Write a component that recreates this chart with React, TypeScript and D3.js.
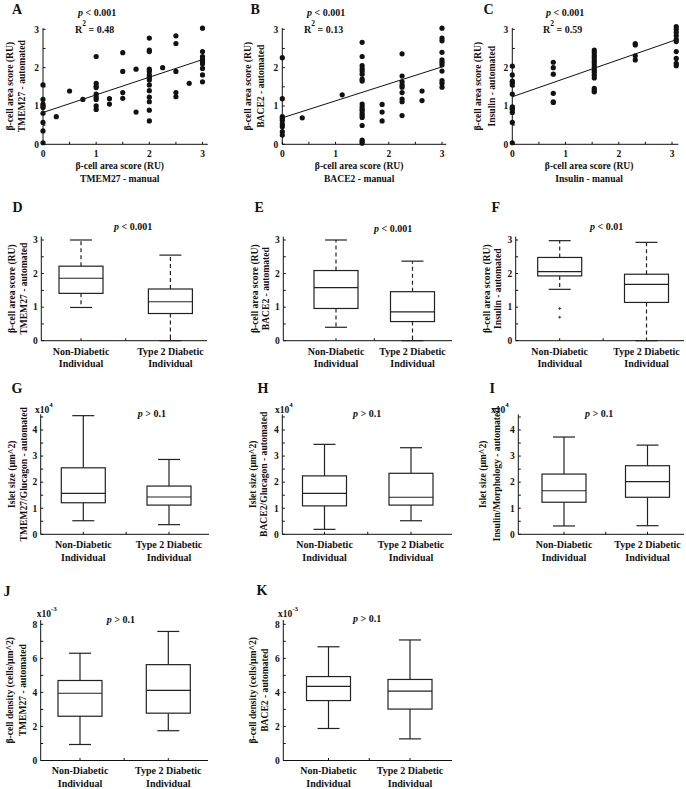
import React from "react";
import * as d3 from "d3";

const FONT = "'Liberation Serif', 'Times New Roman', serif";
const INK = "#111";

// ---------- Scatter data (manual score x, automated score y) ----------
const aManual = [0,0,0,0,0,0,0,0,0, 0.25, 0.5, 0.75, 1,1,1,1,1,1,1,1,1, 1.25,1.25, 1.5,1.5,1.5,1.5, 1.75,1.75, 2,2,2,2,2,2,2,2,2,2,2,2,2,2, 2.25, 2.5,2.5,2.5,2.5,2.5, 2.75, 3,3,3,3,3,3,3,3,3];
const aAuto = [1.55,1.17,1.05,1.0,0.96,0.81,0.57,0.35,0.04, 0.72, 1.39, 1.17, 2.29,1.59,1.52,1.48,1.31,1.23,1.17,1.0,0.91, 1.19,1.05, 2.39,1.9,1.35,1.2, 1.96,0.84, 2.77,2.46,2.42,1.96,1.9,1.81,1.75,1.68,1.55,1.4,1.23,1.11,0.89,0.61, 2.0, 2.83,2.63,1.9,1.35,1.24, 1.59, 3.03,2.42,2.29,2.22,2.16,2.1,1.98,1.81,1.63];
const aFit = [0.83, 2.21];

const bManual = [0,0,0,0,0,0,0,0,0, 0.375, 1.125, 1.5,1.5,1.5,1.5,1.5,1.5,1.5,1.5,1.5,1.5,1.5,1.5,1.5,1.5,1.5,1.5,1.5,1.5,1.5, 1.875,1.875,1.875, 2.25,2.25,2.25,2.25,2.25,2.25,2.25,2.25,2.25, 2.625,2.625, 3,3,3,3,3,3,3,3,3,3,3];
const bAuto = [2.26,1.19,0.72,0.68,0.62,0.53,0.46,0.33,0.24, 0.69, 1.29, 2.66,2.29,2.05,1.97,1.91,1.83,1.7,1.65,1.05,0.98,0.92,0.88,0.81,0.75,0.7,0.49,0.11,0.07,0.03, 1.04,0.84,0.61, 2.36,1.78,1.63,1.55,1.49,1.35,1.18,1.11,0.75, 1.39,1.14, 3.03,2.77,2.7,2.4,2.2,2.14,2.07,1.91,1.66,1.59,1.49];
const bFit = [0.69, 2.02];

const cManual = [0,0,0,0,0,0,0,0,0,0,0,0, 0.77,0.77,0.77,0.77,0.77,0.77, 1.54,1.54,1.54,1.54,1.54,1.54,1.54,1.54,1.54,1.54,1.54,1.54,1.54,1.54,1.54, 2.31,2.31,2.31,2.31, 3.08,3.08,3.08,3.08,3.08,3.08,3.08,3.08,3.08,3.08];
const cAuto = [2.04,1.81,1.65,1.61,1.55,1.31,0.98,0.94,0.9,0.83,0.57,0.04, 2.14,2.0,1.83,1.33,1.11,1.09, 2.46,2.4,2.33,2.27,2.2,2.14,2.07,2.0,1.93,1.87,1.8,1.73,1.46,1.4,1.37, 2.63,2.59,2.31,2.2, 3.07,3.0,2.92,2.83,2.74,2.68,2.42,2.24,2.11,2.05];
const cFit = [1.24, 2.69];

const scoreTicks = [0, 1, 2, 3];

// ---------- Box plot stats [lowWhisker, Q1, median, Q3, highWhisker] ----------
const groups = ["Non-Diabetic", "Type 2 Diabetic"];
const dND = [0.99, 1.41, 1.86, 2.22, 3.0];
const dT2D = [0.0, 0.81, 1.16, 1.54, 2.55];
const eND = [0.4, 0.96, 1.58, 2.09, 3.0];
const eT2D = [0.0, 0.57, 0.86, 1.46, 2.37];
const fND = [1.53, 1.93, 2.06, 2.48, 2.98];
const fT2D = [0.0, 1.14, 1.68, 1.98, 2.93];
const fOutliersND = [0.96, 0.7];
const gND = [0.52, 1.21, 1.57, 2.55, 4.55];
const gT2D = [0.37, 1.12, 1.43, 1.85, 2.87];
const hND = [0.19, 1.09, 1.57, 2.24, 3.45];
const hT2D = [0.52, 1.12, 1.42, 2.34, 3.32];
const iND = [0.32, 1.23, 1.67, 2.31, 3.73];
const iT2D = [0.33, 1.42, 2.02, 2.63, 3.42];
const jND = [0.94, 2.6, 3.95, 4.7, 6.3];
const jT2D = [1.75, 2.78, 4.12, 5.63, 7.58];
const kND = [1.88, 3.52, 4.35, 4.93, 6.68];
const kT2D = [1.27, 3.02, 4.07, 4.76, 7.08];

function PText({ x, y, sign, val }: { x: number; y: number; sign: string; val: string }) {
  return (
    <text x={x} y={y} fontSize={10} fontWeight="bold" fontFamily={FONT} fill={INK}>
      <tspan fontStyle="italic">p</tspan>{` ${sign} ${val}`}
    </text>
  );
}

function YLabel({ cx, cy, lines }: { cx: number[]; cy: number; lines: string[] }) {
  return (
    <g>
      {lines.map((l, i) => (
        <text key={i} transform={`translate(${cx[i] + 3.2},${cy}) rotate(-90)`} textAnchor="middle"
          fontSize={9.6} fontWeight="bold" fontFamily={FONT} fill={INK}>{l}</text>
      ))}
    </g>
  );
}

type ScatterCfg = {
  letter: string; lx: number; ly: number;
  x0: number; x3: number; xmax: number;
  px: number; r2: string; ylab: string[]; ylx: number[]; xlab: string[];
};

function Scatter({ cfg, xs, ys, fit }: { cfg: ScatterCfg; xs: number[]; ys: number[]; fit: number[] }) {
  const x = d3.scaleLinear().domain([0, 3]).range([cfg.x0, cfg.x3]);
  const y = d3.scaleLinear().domain([0, 3]).range([144.3, 29.3]);
  const xmaxFit = d3.max(xs) as number;
  const slope = (fit[1] - fit[0]) / 3;
  const line = d3.line<number>().x((d) => x(d)).y((d) => y(fit[0] + slope * d));
  const halfTicks = d3.range(0, 3.01, 0.5);
  const xc = (x(0) + x(3)) / 2 - 3;
  return (
    <g>
      <text x={cfg.lx} y={cfg.ly} fontSize={14} fontWeight="bold" fontFamily={FONT} fill={INK}>{cfg.letter}</text>
      <PText x={cfg.px} y={16} sign="<" val="0.001" />
      <text x={cfg.px - 3} y={33} fontSize={10} fontWeight="bold" fontFamily={FONT} fill={INK}>
        R<tspan dy={-7} fontSize={7.5}>2</tspan><tspan dy={7}>{` = ${cfg.r2}`}</tspan>
      </text>
      <line x1={x(0)} x2={x(cfg.xmax)} y1={y(0)} y2={y(0)} stroke={INK} strokeWidth={1} />
      <line x1={x(0)} x2={x(0)} y1={y(0)} y2={y(3.03)} stroke={INK} strokeWidth={1} />
      {halfTicks.map((t) => (
        <g key={t}>
          <line x1={x(t)} x2={x(t)} y1={y(0)} y2={y(0) - 2.5} stroke={INK} />
          <line x1={x(0)} x2={x(0) + 2.5} y1={y(t)} y2={y(t)} stroke={INK} />
        </g>
      ))}
      {scoreTicks.map((t) => (
        <g key={t}>
          <text x={x(t)} y={y(0) + 13} textAnchor="middle" fontSize={9.5} fontWeight="bold" fontFamily={FONT} fill={INK}>{t}</text>
          <text x={x(0) - 4} y={y(t) + 3.3} textAnchor="end" fontSize={9.5} fontWeight="bold" fontFamily={FONT} fill={INK}>{t}</text>
        </g>
      ))}
      {xs.map((d, i) => (
        <circle key={i} cx={x(d)} cy={y(ys[i])} r={2.6} fill={INK} />
      ))}
      <path d={line([0, xmaxFit]) || ""} fill="none" stroke={INK} strokeWidth={1} />
      <YLabel cx={cfg.ylx} cy={(y(0) + y(3.03)) / 2} lines={cfg.ylab} />
      {cfg.xlab.map((l, i) => (
        <text key={i} x={xc} y={169 + i * 12.5} textAnchor="middle" fontSize={9.6} fontWeight="bold" fontFamily={FONT} fill={INK}>{l}</text>
      ))}
    </g>
  );
}

type BoxCfg = {
  letter: string; lx: number; ly: number;
  ax: number; aEnd: number; y0: number; yRefPx: number; yRef: number; ymax: number;
  centers: number[]; ylab: string[]; ylx: number[];
  p: { x: number; y: number; sign: string; val: string };
  dashed: boolean; tickStep: number; labelStep: number;
  exp?: { x: number; y: number; e: string };
};

function BoxPanel({ cfg, stats, outliers }: { cfg: BoxCfg; stats: number[][]; outliers?: number[][] }) {
  const y = d3.scaleLinear().domain([0, cfg.yRef]).range([cfg.y0, cfg.yRefPx]);
  const x = d3.scaleLinear().domain([1, 2]).range([cfg.centers[0], cfg.centers[1]]);
  const bw = 44, cw = 22;
  const ticks = d3.range(0, cfg.ymax + 1e-6, cfg.tickStep);
  const labels = d3.range(0, cfg.ymax + 1e-6, cfg.labelStep);
  const boxColor = "#222";
  return (
    <g>
      <text x={cfg.lx} y={cfg.ly} fontSize={14} fontWeight="bold" fontFamily={FONT} fill={INK}>{cfg.letter}</text>
      <PText {...cfg.p} />
      {cfg.exp && (
        <text x={cfg.exp.x} y={cfg.exp.y} fontSize={9.5} fontWeight="bold" fontFamily={FONT} fill={INK}>
          x10<tspan dy={-6} fontSize={7}>{cfg.exp.e}</tspan>
        </text>
      )}
      <line x1={cfg.ax} x2={cfg.aEnd} y1={cfg.y0} y2={cfg.y0} stroke={INK} />
      <line x1={cfg.ax} x2={cfg.ax} y1={cfg.y0} y2={y(cfg.ymax)} stroke={INK} />
      {ticks.map((t) => (
        <line key={t} x1={cfg.ax} x2={cfg.ax + 2.5} y1={y(t)} y2={y(t)} stroke={INK} />
      ))}
      {[1, 1.5, 2].map((t) => (
        <line key={t} x1={x(t)} x2={x(t)} y1={cfg.y0} y2={cfg.y0 - 2.5} stroke={INK} />
      ))}
      {labels.map((t) => (
        <text key={t} x={cfg.ax - 3.5} y={y(t) + 3.3} textAnchor="end" fontSize={9.5} fontWeight="bold" fontFamily={FONT} fill={INK}>{t}</text>
      ))}
      {stats.map((s, i) => {
        const cx = x(i + 1);
        return (
          <g key={i} stroke={boxColor} strokeWidth={1.2} fill="none">
            <line x1={cx} x2={cx} y1={y(s[3])} y2={y(s[4])} strokeDasharray={cfg.dashed ? "4 3" : undefined} />
            <line x1={cx} x2={cx} y1={y(s[1])} y2={y(s[0])} strokeDasharray={cfg.dashed ? "4 3" : undefined} />
            <line x1={cx - cw / 2} x2={cx + cw / 2} y1={y(s[4])} y2={y(s[4])} />
            <line x1={cx - cw / 2} x2={cx + cw / 2} y1={y(s[0])} y2={y(s[0])} />
            <rect x={cx - bw / 2} y={y(s[3])} width={bw} height={y(s[1]) - y(s[3])} fill="white" />
            <line x1={cx - bw / 2} x2={cx + bw / 2} y1={y(s[2])} y2={y(s[2])} />
            {(outliers?.[i] || []).map((o, j) => (
              <g key={j} strokeWidth={0.8}>
                <line x1={cx - 1.5} x2={cx + 1.5} y1={y(o)} y2={y(o)} />
                <line x1={cx} x2={cx} y1={y(o) - 1.5} y2={y(o) + 1.5} />
              </g>
            ))}
          </g>
        );
      })}
      {groups.map((g, i) => (
        <g key={g}>
          <text x={x(i + 1)} y={cfg.y0 + 13.8} textAnchor="middle" fontSize={10} fontWeight="bold" fontFamily={FONT} fill={INK}>{g}</text>
          <text x={x(i + 1)} y={cfg.y0 + 26.5} textAnchor="middle" fontSize={10} fontWeight="bold" fontFamily={FONT} fill={INK}>Individual</text>
        </g>
      ))}
      <YLabel cx={cfg.ylx} cy={(cfg.y0 + y(cfg.ymax)) / 2} lines={cfg.ylab} />
    </g>
  );
}

const scoreLab = "β-cell area score (RU)";
const isletLab = "Islet size (μm^2)";
const densLab = "β-cell density (cells/μm^2)";

export default function App() {
  const rowScore = { y0: 340.7, yRefPx: 240, yRef: 3, ymax: 3.1, dashed: true, tickStep: 0.5, labelStep: 1 };
  const rowIslet = { y0: 534.3, yRefPx: 430, yRef: 4, ymax: 4.6, dashed: false, tickStep: 0.5, labelStep: 1 };
  const rowDens = { y0: 760.5, yRefPx: 624.3, yRef: 8, ymax: 8.25, dashed: false, tickStep: 1, labelStep: 2 };
  return (
    <svg width={686} height={789} style={{ position: "absolute", left: 0, top: 0, background: "white" }}>
      <rect width={686} height={789} fill="white" />
      <Scatter xs={aManual} ys={aAuto} fit={aFit}
        cfg={{ letter: "A", lx: 12, ly: 13.5, x0: 43, x3: 202.5, xmax: 3.1, px: 78, r2: "0.48",
          ylab: [scoreLab, "TMEM27 - automated"], ylx: [9.5, 22], xlab: [scoreLab, "TMEM27 - manual"] }} />
      <Scatter xs={bManual} ys={bAuto} fit={bFit}
        cfg={{ letter: "B", lx: 250.5, ly: 13.5, x0: 282.3, x3: 442, xmax: 3.08, px: 307, r2: "0.13",
          ylab: [scoreLab, "BACE2 - automated"], ylx: [247.5, 260.5], xlab: [scoreLab, "BACE2 - manual"] }} />
      <Scatter xs={cManual} ys={cAuto} fit={cFit}
        cfg={{ letter: "C", lx: 483.5, ly: 13.5, x0: 512.3, x3: 672, xmax: 3.12, px: 546, r2: "0.59",
          ylab: [scoreLab, "Insulin - automated"], ylx: [478, 492], xlab: [scoreLab, "Insulin - manual"] }} />

      <BoxPanel stats={[dND, dT2D]}
        cfg={{ ...rowScore, letter: "D", lx: 12.5, ly: 211.7, ax: 41.3, aEnd: 207, centers: [81, 170.4],
          ylab: [scoreLab, "TMEM27 - automated"], ylx: [12, 23.3], p: { x: 114, y: 230, sign: "<", val: "0.001" } }} />
      <BoxPanel stats={[eND, eT2D]}
        cfg={{ ...rowScore, letter: "E", lx: 254.5, ly: 211.7, ax: 283.3, aEnd: 452, centers: [336, 412.5],
          ylab: [scoreLab, "BACE2 - automated"], ylx: [254.3, 265.5], p: { x: 374, y: 232.3, sign: "<", val: "0.001" } }} />
      <BoxPanel stats={[fND, fT2D]} outliers={[fOutliersND, []]}
        cfg={{ ...rowScore, letter: "F", lx: 491.5, ly: 211.5, ax: 515.7, aEnd: 684, centers: [559.7, 646.5],
          ylab: [scoreLab, "Insulin - automated"], ylx: [486.7, 498], p: { x: 590, y: 230, sign: "<", val: "0.01" } }} />

      <BoxPanel stats={[gND, gT2D]}
        cfg={{ ...rowIslet, letter: "G", lx: 11.5, ly: 393.3, ax: 40.7, aEnd: 209, centers: [83.3, 169],
          ylab: [isletLab, "TMEM27/Glucagon - automated"], ylx: [11.7, 23.3], p: { x: 137.7, y: 416.7, sign: ">", val: "0.1" },
          exp: { x: 35, y: 413.3, e: "4" } }} />
      <BoxPanel stats={[hND, hT2D]}
        cfg={{ ...rowIslet, letter: "H", lx: 257.5, ly: 393.3, ax: 282.3, aEnd: 452, centers: [324.5, 411],
          ylab: [isletLab, "BACE2/Glucagon - automated"], ylx: [252.3, 263.5], p: { x: 353, y: 416.7, sign: ">", val: "0.1" },
          exp: { x: 275, y: 413.3, e: "4" } }} />
      <BoxPanel stats={[iND, iT2D]}
        cfg={{ ...rowIslet, letter: "I", lx: 489.5, ly: 393.3, ax: 518.3, aEnd: 684, centers: [564, 647.5],
          ylab: [isletLab, "Insulin/Morphology - automated"], ylx: [482.5, 497], p: { x: 585, y: 416.7, sign: ">", val: "0.1" },
          exp: { x: 491, y: 413.3, e: "4" } }} />

      <BoxPanel stats={[jND, jT2D]}
        cfg={{ ...rowDens, letter: "J", lx: 3.5, ly: 595.7, ax: 40.7, aEnd: 208, centers: [80, 168.3],
          ylab: [densLab, "TMEM27 - automated"], ylx: [10, 23], p: { x: 106.7, y: 622.7, sign: ">", val: "0.1" },
          exp: { x: 36.7, y: 616.5, e: "-3" } }} />
      <BoxPanel stats={[kND, kT2D]}
        cfg={{ ...rowDens, letter: "K", lx: 256.5, ly: 595.3, ax: 283.3, aEnd: 452, centers: [328.5, 410],
          ylab: [densLab, "BACE2 - automated"], ylx: [252.3, 264.3], p: { x: 353, y: 621.7, sign: ">", val: "0.1" },
          exp: { x: 278, y: 616.5, e: "-3" } }} />
    </svg>
  );
}
